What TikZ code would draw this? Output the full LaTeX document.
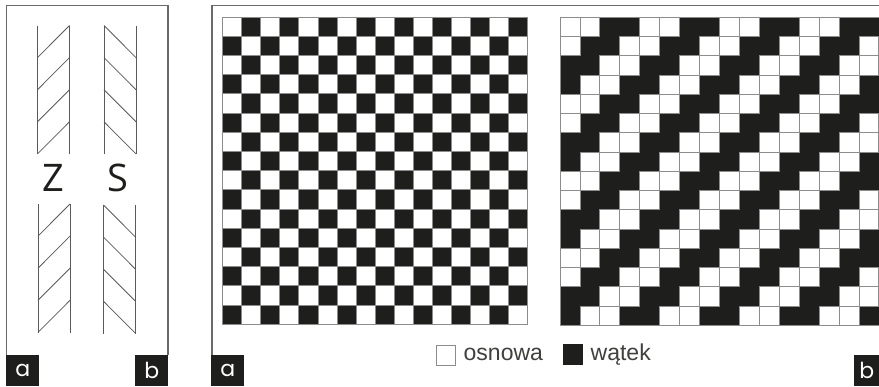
\documentclass[tikz,border=0pt]{standalone}
\usepackage{fontspec}
\setmainfont{Liberation Sans}
\newfontfamily\zsfont{Open Sans}
\newfontfamily\tagfont{Poppins}
\definecolor{ink}{HTML}{1E1E1C}
\definecolor{gridline}{HTML}{8C8C8C}
\definecolor{framecol}{HTML}{6A6A6A}
\definecolor{hatchcol}{HTML}{5A5A5A}
\tikzset{
  frameline/.style={draw=framecol,line width=1.2pt},
  hatch/.style={draw=hatchcol,line width=0.8pt},
  darkcell/.style={fill=ink,draw=ink,line width=0.4pt},
  lightcell/.style={fill=white,draw=gridline,line width=0.8pt},
  outerline/.style={draw=gridline,line width=0.8pt},
  tagbox/.style={fill=ink,text=white,inner sep=0pt,font=\tagfont\fontsize{22}{22}\selectfont},
  zslabel/.style={inner sep=0pt,text=ink,font=\zsfont\fontsize{38}{38}\selectfont},
  legendtext/.style={inner sep=0pt,anchor=base west,text=ink!85!white,font=\fontsize{23}{23}\selectfont}
}
\newcommand{\hatchZ}[2]{% x0, y0
  \draw[hatch] (#1,#2) -- (#1,#2+128.5);
  \draw[hatch] (#1+32,#2) -- (#1+32,#2+128.5);
  \foreach \k in {0,1,2,3}
    \draw[hatch] (#1,#2+32.1+\k*32.1) -- (#1+32,#2+\k*32.1);
}
\newcommand{\hatchS}[2]{%
  \draw[hatch] (#1,#2) -- (#1,#2+128.5);
  \draw[hatch] (#1+32,#2) -- (#1+32,#2+128.5);
  \foreach \k in {0,1,2,3}
    \draw[hatch] (#1,#2+\k*32.1) -- (#1+32,#2+32.1+\k*32.1);
}
\begin{document}
\begin{tikzpicture}[x=1pt,y=-1pt]
\useasboundingbox (0,0) rectangle (879,386);
\fill[white] (0,0) rectangle (879,386);
% left panel
\draw[frameline] (6.5,355) -- (6.5,5.5) -- (168,5.5) -- (168,355);
\hatchZ{37.5}{25.5}
\hatchS{104}{25.5}
\hatchZ{38}{204}
\hatchS{103.5}{205}
\node[zslabel] (zl) at (53.5,177.5) {Z};
\node[zslabel] (sl) at (118,177.5) {S};
\node[tagbox,minimum width=33pt,minimum height=31pt,anchor=north west] (ta) at (6,355) {a};
\node[tagbox,minimum width=33pt,minimum height=31pt,anchor=north west] (tb) at (135,355) {b};
% right panel
\draw[frameline] (212,355) -- (212,5.5) -- (879,5.5);
% plain weave: dark cells first, light cells with their outlines above
\fill[ink] (222.5,17) rectangle (527.8,324.2);
\foreach \r in {0,...,15}
  \foreach \c in {0,...,15}{
    \pgfmathtruncatemacro{\m}{mod(\r+\c,2)}
    \ifnum\m=0
      \draw[lightcell] (222.5+\c*19.08,17+\r*19.2) rectangle ++(19.08,19.2);
    \fi
  }
\draw[outerline] (222.5,17) rectangle (527.8,324.2);
% twill weave
\fill[ink] (560,17.3) rectangle (879,325.3);
\foreach \r in {0,...,15}
  \foreach \c in {0,...,15}{
    \pgfmathtruncatemacro{\m}{mod(\r+\c,4)}
    \ifnum\m<2
      \draw[lightcell] (560+\c*19.93,17.3+\r*19.25) rectangle ++(19.93,19.25);
    \fi
  }
\draw[outerline] (879,17.3) -- (560,17.3) -- (560,325.3) -- (879,325.3);
% legend
\draw[lightcell] (436,345) rectangle (455.5,365);
\node[legendtext] (osn) at (463.5,360) {osnowa};
\draw[darkcell] (563,344) rectangle (582,364);
\node[legendtext] (wat) at (590.5,360) {wątek};
\node[tagbox,minimum width=33pt,minimum height=31pt,anchor=north west] (tc) at (211,355) {a};
\node[tagbox,minimum width=25pt,minimum height=31pt,anchor=north west] (td) at (854,355) {b};
\end{tikzpicture}
\end{document}
